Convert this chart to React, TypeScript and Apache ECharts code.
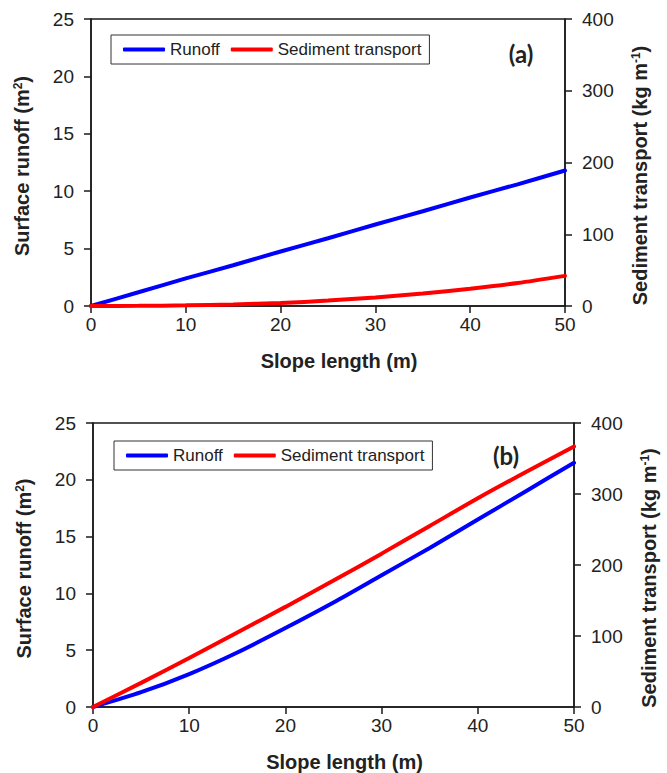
import React, { useEffect, useRef } from "react";
import * as echarts from "echarts";

const slopeLength = [0, 5, 10, 15, 20, 25, 30, 35, 40, 45, 50];
const runoffA = [0, 1.2, 2.4, 3.55, 4.75, 5.9, 7.1, 8.25, 9.45, 10.6, 11.8];
const sedimentA = [0, 0.2, 0.9, 2.2, 4.2, 7.5, 12, 17.5, 24, 32, 42];
const runoffB = [0, 1.3, 2.9, 4.8, 6.95, 9.2, 11.6, 14.0, 16.5, 19.0, 21.5];
const sedimentB = [0, 34, 69, 105, 141, 178, 216, 255, 294, 331, 367];
const seriesNames = ["Runoff", "Sediment transport"];
const panelLabels = ["(a)", "(b)"];
const xTitle = "Slope length (m)";

const FONT = "'Liberation Sans', Arial, sans-serif";
const AXIS_COLOR = "#1a1a1a";
const TEXT_COLOR = "#222";

const pairs = (ys: number[]) => slopeLength.map((x, i) => [x, ys[i]]);

const axisLineStyle = { show: true, lineStyle: { color: AXIS_COLOR, width: 1.5 } };
const axisTick = { show: true, inside: false, length: 7, lineStyle: { color: AXIS_COLOR, width: 1.5 } };
const labelStyle = (margin: number) => ({ fontSize: 19, color: TEXT_COLOR, fontFamily: FONT, margin });

const leftName = "{t|Surface runoff (m}{s|2}{t|)}";
const rightName = "{t|Sediment transport (kg m}{s|-1}{t|)}";
const richTitle = {
  t: { fontSize: 20, fontWeight: "bold", fontFamily: FONT, color: TEXT_COLOR },
  s: { fontSize: 12, fontWeight: "bold", fontFamily: FONT, color: TEXT_COLOR, verticalAlign: "top" },
};

function makeX(gridIndex: number) {
  return {
    type: "value",
    gridIndex,
    min: 0,
    max: 50,
    interval: 10,
    axisLine: axisLineStyle,
    axisTick,
    axisLabel: labelStyle(9),
    splitLine: { show: false },
    name: xTitle,
    nameLocation: "middle",
    nameGap: 45,
    nameTextStyle: { fontSize: 20, fontWeight: "bold", fontFamily: FONT, color: TEXT_COLOR, padding: [0, 0, 0, 22] },
  };
}

function makeYLeft(gridIndex: number) {
  return {
    type: "value",
    gridIndex,
    position: "left",
    min: 0,
    max: 25,
    interval: 5,
    axisLine: axisLineStyle,
    axisTick,
    axisLabel: labelStyle(17),
    splitLine: { show: false },
    name: leftName,
    nameLocation: "middle",
    nameRotate: 90,
    nameGap: 59,
    nameTextStyle: { rich: richTitle, padding: [0, 7, 0, 0] },
  };
}

function makeYRight(gridIndex: number) {
  return {
    type: "value",
    gridIndex,
    position: "right",
    min: 0,
    max: 400,
    interval: 100,
    axisLine: axisLineStyle,
    axisTick,
    axisLabel: labelStyle(17),
    splitLine: { show: false },
    name: rightName,
    nameLocation: "middle",
    nameRotate: 90,
    nameGap: 65,
    nameTextStyle: { rich: richTitle, padding: [0, 26, 0, 0] },
  };
}

function makeLine(name: string, color: string, xi: number, yi: number, data: number[][]) {
  return {
    type: "line",
    name,
    xAxisIndex: xi,
    yAxisIndex: yi,
    data,
    smooth: 0.25,
    showSymbol: false,
    symbol: "none",
    lineStyle: { color, width: 4, cap: "round" },
    itemStyle: { color },
  };
}

function makeLegend(left: number, top: number) {
  return {
    left,
    top,
    orient: "horizontal",
    data: seriesNames.map((n) => ({ name: n, icon: "roundRect" })),
    borderColor: "#333",
    borderWidth: 1,
    padding: [6, 8, 6, 12],
    itemWidth: 42,
    itemHeight: 4,
    itemGap: 11,
    selectedMode: false,
    textStyle: { fontSize: 17, color: TEXT_COLOR, fontFamily: FONT, lineHeight: 17 },
  };
}

export default function App() {
  const ref = useRef<HTMLDivElement>(null);
  useEffect(() => {
    if (!ref.current) return;
    const chart = echarts.init(ref.current, null, { renderer: "svg" });
    chart.setOption({
      animation: false,
      backgroundColor: "#fff",
      grid: [
        { left: 91, top: 19, width: 474, height: 287, show: true, borderColor: AXIS_COLOR, borderWidth: 1.5, backgroundColor: "transparent" },
        { left: 93, top: 423, width: 486, height: 289, show: true, borderColor: AXIS_COLOR, borderWidth: 1.5, backgroundColor: "transparent" },
      ],
      xAxis: [makeX(0), makeX(1)],
      yAxis: [makeYLeft(0), makeYRight(0), makeYLeft(1), makeYRight(1)],
      legend: [makeLegend(111, 35), makeLegend(114, 441)],
      series: [
        makeLine(seriesNames[0], "#0000ff", 0, 0, pairs(runoffA)),
        makeLine(seriesNames[1], "#ff0000", 0, 1, pairs(sedimentA)),
        makeLine(seriesNames[0], "#0000ff", 1, 2, pairs(runoffB)),
        makeLine(seriesNames[1], "#ff0000", 1, 3, pairs(sedimentB)),
      ],
      graphic: [
        {
          type: "text",
          x: 521,
          y: 53,
          style: { text: panelLabels[0], font: "bold 24px Lato, 'Open Sans', sans-serif", fill: "#222", textAlign: "center", textVerticalAlign: "middle" },
        },
        {
          type: "text",
          x: 506,
          y: 455,
          style: { text: panelLabels[1], font: "bold 24px Lato, 'Open Sans', sans-serif", fill: "#222", textAlign: "center", textVerticalAlign: "middle" },
        },
      ],
    });
    return () => chart.dispose();
  }, []);
  return <div ref={ref} style={{ position: "absolute", left: 0, top: 0, width: 667, height: 773 }} />;
}
